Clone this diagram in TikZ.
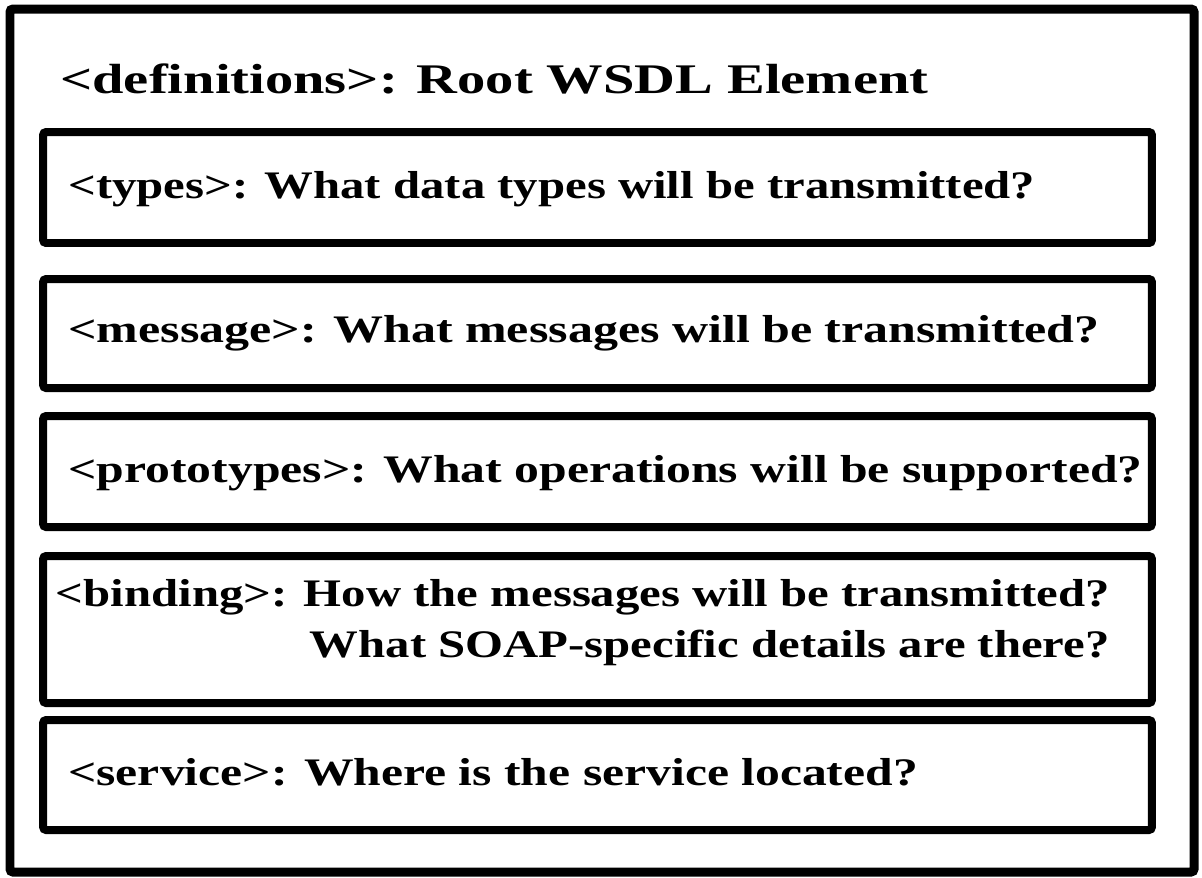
\documentclass[tikz,border=0pt]{standalone}
\usepackage{fontspec}
\newfontfamily\boxfont{Liberation Serif}[FakeStretch=1.25]
\newfontfamily\rootfont{Liberation Serif}[FakeStretch=1.34]

\begin{document}
\begin{tikzpicture}[x=0.02cm, y=-0.02cm,
  slot/.style={draw, line width=0.16cm, rounded corners=0.06cm, minimum width=22.18cm, outer sep=0pt, inner sep=0pt},
  boxtext/.style={font=\boxfont\bfseries\fontsize{22.2}{29}\selectfont, inner sep=0pt}]

\useasboundingbox (0,0) rectangle (1202,877);
\draw[line width=0.18cm, rounded corners=0.06cm] (10,9) rectangle (1194,872);

\node[font=\rootfont\bfseries\fontsize{24}{29}\selectfont, inner sep=0pt, anchor=base west] (root) at (60,93) {<definitions>: Root WSDL Element};

% inner boxes
\node[slot, minimum height=2.22cm] (types)  at (597.5,187.5) {};
\node[slot, minimum height=2.18cm] (message) at (597.5,333.5) {};
\node[slot, minimum height=2.22cm] (proto)  at (597.5,471.5) {};
\node[slot, minimum height=2.94cm] (binding) at (597.5,629.5) {};
\node[slot, minimum height=2.20cm] (service) at (597.5,775) {};

% texts
\node[boxtext, anchor=base west] (typestxt)   at (68,198) {<types>: What data types will be transmitted?};
\node[boxtext, anchor=base west, xscale=1.025] (messagetxt) at (68,342) {<message>: What messages will be transmitted?};
\node[boxtext, anchor=base west, xscale=1.019] (prototxt)   at (68,482) {<prototypes>: What operations will be supported?};
\node[boxtext, anchor=east, align=right] (bindingtxt) at (1110,623) {<binding>: How the messages will be transmitted?\\What SOAP-specific details are there?};
\node[boxtext, anchor=base west, xscale=1.018] (servicetxt) at (68,785) {<service>: Where is the service located?};

\end{tikzpicture}
\end{document}
